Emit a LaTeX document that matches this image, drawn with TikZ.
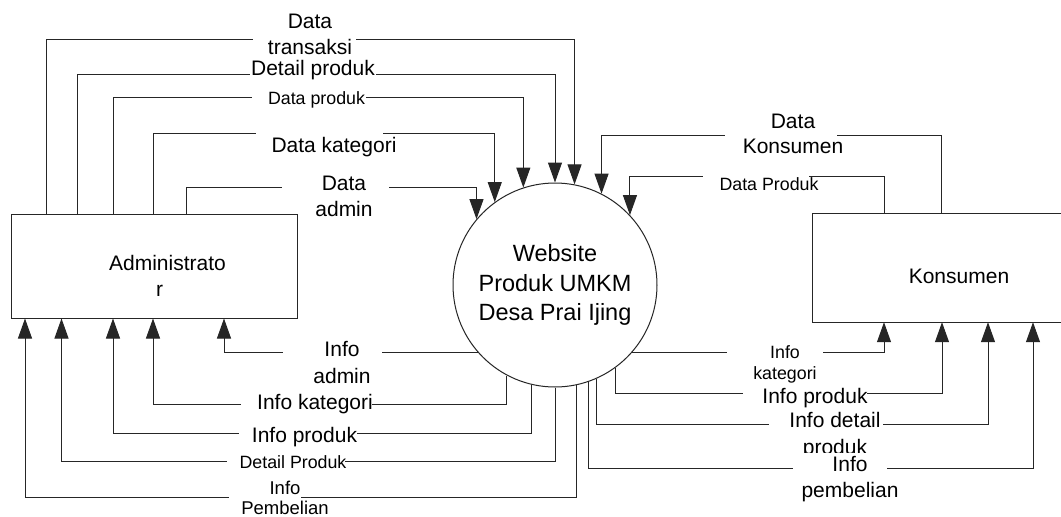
\documentclass[tikz,border=0pt]{standalone}
\usepackage{fontspec}
\setmainfont{Liberation Sans}
\usetikzlibrary{arrows.meta}

\begin{document}
\begin{tikzpicture}[x=1pt, y=-1pt,
  flow/.style={line width=1pt, draw=black!85, -{Triangle[length=20pt,width=14pt]}},
  entity/.style={rectangle, draw=black!85, line width=1pt, inner sep=0pt},
  gap/.style={fill=white, inner sep=0pt, minimum height=6pt},
  lbl/.style={anchor=base, align=center, inner sep=0pt, font={\fontsize{21}{26}\selectfont}},
  slbl/.style={anchor=base, align=center, inner sep=0pt, font={\fontsize{17.8}{21}\selectfont}}
]
\useasboundingbox[fill=white] (0,0) rectangle (1061,517);

% external entities and the process
\node[entity, minimum width=286.5pt, minimum height=104pt] (adm) at (154.25,266) {};
\node[inner sep=0pt, minimum width=248pt, minimum height=108pt] (kon) at (937,268) {};
\draw[black!85, line width=1pt] (kon.north east) -- (kon.north west) -- (kon.south west) -- (kon.south east);
\node[circle, draw=black!85, line width=1pt, minimum size=204pt, inner sep=0pt, align=center,
      font={\fontsize{23.5}{29.5}\selectfont}] (c) at (555,285) {Website\\Produk UMKM\\Desa Prai Ijing};

% Administrator -> process
\draw[flow] (46.7,0 |- adm.north) |- (c.79.83 |- 0,39) -- (c.79.83);
\draw[flow] (77.5,0 |- adm.north) |- (c.90.56 |- 0,74) -- (c.90.56);
\draw[flow] (113,0 |- adm.north) |- (c.108.88 |- 0,97) -- (c.108.88);
\draw[flow] (153,0 |- adm.north) |- (c.126.73 |- 0,133) -- (c.126.73);
\draw[flow] (186,0 |- adm.north) |- (c.140.76 |- 0,187) -- (c.140.76);

% process -> Administrator
\draw[flow] (c.221.81) -| (224,0 |- adm.south);
\draw[flow] (c.-118.07) |- (153,404) -- (153,0 |- adm.south);
\draw[flow] (c.-103.61) |- (113,433) -- (113,0 |- adm.south);
\draw[flow] (c.-90.56) |- (61.5,461) -- (61.5,0 |- adm.south);
\draw[flow] (c.-78.12) |- (25,497) -- (25,0 |- adm.south);

% Konsumen -> process
\draw[flow] (941,0 |- kon.north) |- (c.63.19 |- 0,135) -- (c.63.19);
\draw[flow] (884,0 |- kon.north) |- (c.43.49 |- 0,176) -- (c.43.49);

% process -> Konsumen
\draw[flow] (c.-41.81) -| (884,0 |- kon.south);
\draw[flow] (c.-54.66) |- (942,393) -- (942,0 |- kon.south);
\draw[flow] (c.-66.91) |- (988,424) -- (988,0 |- kon.south);
\draw[flow] (c.-71.72) |- (1033,468) -- (1033,0 |- kon.south);

% entity names (base anchor = baseline of the last line)
\node[lbl] (admtxt) at (167.5,296.5) {Administrato\\\hspace*{-16pt}r};
\node[lbl] (kontxt) at (959,283.5) {Konsumen};

% label backgrounds breaking the flow lines
\node[gap, minimum width=103pt] (g1) at (304.5,39) {};
\node[gap, minimum width=126pt] (g2) at (313,74) {};
\node[gap, minimum width=114pt] (g3) at (309,97) {};
\node[gap, minimum width=127pt] (g4) at (319.5,133) {};
\node[gap, minimum width=107pt] (g5) at (335.5,187) {};
\node[gap, minimum width=98.5pt] (g6) at (332.25,353) {};
\node[gap, minimum width=131pt] (g7) at (306.5,404) {};
\node[gap, minimum width=118pt] (g8) at (298,433) {};
\node[gap, minimum width=118pt] (g9) at (286,461) {};
\node[gap, minimum width=72.5pt] (g10) at (264.75,497) {};
\node[gap, minimum width=112pt] (g11) at (781,135) {};
\node[gap, minimum width=106pt] (g12) at (756,176) {};
\node[gap, minimum width=96pt] (g13) at (775,353) {};
\node[gap, minimum width=124pt] (g14) at (805,393) {};
\node[gap, minimum width=114pt] (g15) at (826,424) {};

% flow labels (base anchor = baseline of the last line)
\node[lbl] (l1) at (310,54.5) {Data\\transaksi};
\node[lbl] (l2) at (313,75) {Detail produk};
\node[slbl] (l3) at (316.5,104) {Data produk};
\node[lbl] (l4) at (334,152.5) {Data kategori};
\node[lbl] (l5) at (344,216.5) {Data\\admin};
\node[lbl, font={\fontsize{21}{27}\selectfont}] (l6) at (342,383.5) {Info\\admin};
\node[lbl] (l7) at (315,409.5) {Info kategori};
\node[lbl] (l8) at (304.5,442.5) {Info produk};
\node[slbl] (l9) at (293,468) {Detail Produk};
\node[slbl, font={\fontsize{18.5}{20}\selectfont}] (l10) at (285,514.5) {Info\\Pembelian};
\node[lbl, font={\fontsize{21}{25}\selectfont}] (l11) at (793,153) {Data\\Konsumen};
\node[slbl] (l12) at (769,190.5) {Data Produk};
\node[slbl] (l13) at (785,379) {Info\\kategori};
\node[lbl] (l14) at (815,403) {Info produk};
\node[lbl, font={\fontsize{21}{26.7}\selectfont}] (l15) at (835,454.2) {Info detail\\produk};
\node[gap, minimum width=94pt, minimum height=26pt] (g16) at (840,466) {};
\node[lbl] (l16) at (850,497.5) {Info\\pembelian};
\end{tikzpicture}
\end{document}
